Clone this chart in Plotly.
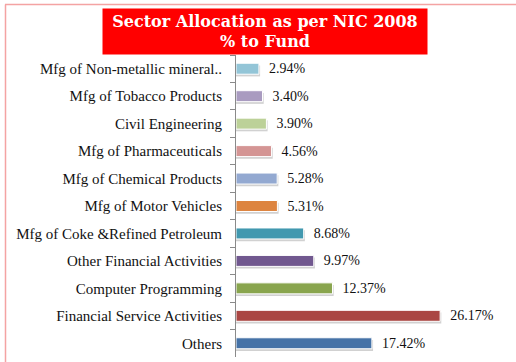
import plotly.graph_objects as go

# categories listed top to bottom, as in the picture
sectors = [
    "Mfg of Non-metallic mineral..",
    "Mfg of Tobacco Products",
    "Civil Engineering",
    "Mfg of Pharmaceuticals",
    "Mfg of Chemical Products",
    "Mfg of Motor Vehicles",
    "Mfg of Coke &Refined Petroleum",
    "Other Financial Activities",
    "Computer Programming",
    "Financial Service Activities",
    "Others",
]
pct_to_fund = [2.94, 3.40, 3.90, 4.56, 5.28, 5.31, 8.68, 9.97, 12.37, 26.17, 17.42]
bar_colors = [
    "#93C5D7", "#A99BC0", "#BCD198", "#D49594", "#93A9D1", "#DD843F",
    "#4198AF", "#71588F", "#89A54E", "#AA4643", "#4572A7",
]

W, H = 516, 362
L, R, T, B = 236, 24, 55, 5
pw, ph = W - L - R, H - T - B


def px_x(x):
    return (x - L) / pw


def px_y(y):
    return (H - B - y) / ph


fig = go.Figure()

# soft drop shadow under each bar
fig.add_trace(go.Bar(
    y=sectors, x=[v + 0.15 for v in pct_to_fund], orientation="h",
    width=0.4, offset=-0.12,
    marker=dict(color="rgba(0,0,0,0.18)", line=dict(width=0)),
    hoverinfo="skip", showlegend=False,
))

fig.add_trace(go.Bar(
    y=sectors, x=pct_to_fund, orientation="h",
    width=0.4, offset=-0.2,
    marker=dict(color=bar_colors, line=dict(color="white", width=1)),
    text=["  %.2f%%" % v for v in pct_to_fund],
    textposition="outside", cliponaxis=False, constraintext="none",
    textfont=dict(family="Liberation Serif", size=14, color="#111"),
    showlegend=False,
))

fig.update_layout(
    width=W, height=H,
    margin=dict(l=L, r=R, t=T, b=B, autoexpand=False),
    barmode="overlay",
    plot_bgcolor="white", paper_bgcolor="white",
    font=dict(family="Liberation Serif", size=15, color="#111"),
    xaxis=dict(range=[0, pw / 7.8], visible=False),
    yaxis=dict(
        autorange="reversed", showline=True, linecolor="#8a8a8a", linewidth=1,
        ticks="outside", tickson="boundaries", ticklen=5, tickcolor="#8a8a8a",
        showgrid=False, ticklabelstandoff=10, automargin=False,
    ),
)

# light red frame on top and left
fig.add_shape(type="line", xref="paper", yref="paper",
              x0=px_x(5), x1=px_x(516), y0=px_y(4.5), y1=px_y(4.5),
              line=dict(color="#F4A3A3", width=1.5))
fig.add_shape(type="line", xref="paper", yref="paper",
              x0=px_x(5.5), x1=px_x(5.5), y0=px_y(4.5), y1=px_y(362),
              line=dict(color="#F4A3A3", width=1.5))

fig.add_annotation(
    xref="paper", yref="paper", x=px_x(265), y=px_y(31.5),
    xanchor="center", yanchor="middle", showarrow=False,
    text="<b>Sector Allocation as per NIC 2008<br>% to Fund</b>",
    font=dict(family="DejaVu Serif", size=16, color="white"),
    bgcolor="#FF0000", width=322, height=43, borderpad=1,
)

fig.write_html("out.html", config={"displayModeBar": False},
               post_script="document.body.style.margin='0px';")
